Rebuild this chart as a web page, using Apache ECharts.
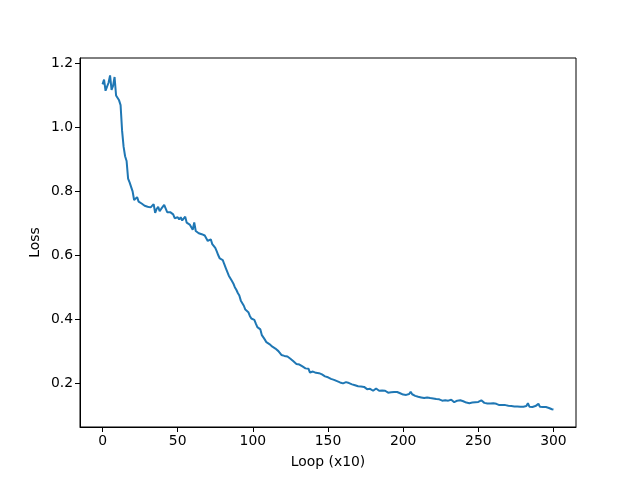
<!DOCTYPE html>
<html><head><meta charset="utf-8">
<script src="https://cdn.jsdelivr.net/npm/echarts@6/dist/echarts.min.js"></script>
<style>html,body{margin:0;padding:0;background:#fff}#c{width:640px;height:480px}</style>
</head><body><div id="c"></div>
<script>
const lossValues = [
1.135,1.150,1.115,1.128,1.140,1.163,1.118,1.130,1.158,1.100,
1.095,1.085,1.070,0.990,0.940,0.910,0.895,0.840,0.828,0.830,
0.800,0.773,0.778,0.782,0.768,0.770,0.762,0.765,0.755,0.750,
0.752,0.748,0.750,0.746,0.760,0.733,0.745,0.752,0.738,0.745,
0.750,0.758,0.762,0.735,0.732,0.735,0.734,0.728,0.716,0.722,
0.719,0.712,0.719,0.709,0.714,0.721,0.702,0.700,0.696,0.692,
0.680,0.703,0.676,0.672,0.669,0.665,0.666,0.667,0.662,0.656,
0.645,0.646,0.650,0.635,0.630,0.623,0.612,0.600,0.590,0.590,
0.585,0.572,0.560,0.548,0.536,0.528,0.520,0.512,0.500,0.492,
0.482,0.474,0.458,0.454,0.442,0.430,0.428,0.422,0.410,0.402,
0.400,0.398,0.386,0.375,0.372,0.368,0.350,0.344,0.336,0.328,
0.326,0.322,0.320,0.314,0.310,0.308,0.304,0.300,0.296,0.288,
0.287,0.285,0.284,0.283,0.280,0.276,0.270,0.268,0.262,0.260,
0.254,0.258,0.261,0.252,0.250,0.246,0.249,0.245,0.233,0.238,
0.236,0.231,0.232,0.233,0.231,0.226,0.227,0.224,0.221,0.222,
0.218,0.217,0.213,0.212,0.210,0.207,0.206,0.204,0.202,0.201,
0.199,0.197,0.203,0.209,0.200,0.197,0.196,0.194,0.193,0.192,
0.190,0.191,0.189,0.188,0.188,0.184,0.181,0.183,0.182,0.178,
0.176,0.179,0.183,0.180,0.176,0.174,0.177,0.181,0.176,0.171,
0.170,0.171,0.171,0.170,0.172,0.173,0.172,0.171,0.168,0.166,
0.164,0.165,0.163,0.163,0.166,0.173,0.165,0.160,0.160,0.158,
0.157,0.158,0.155,0.152,0.153,0.155,0.155,0.154,0.153,0.152,
0.152,0.151,0.150,0.150,0.149,0.147,0.145,0.145,0.146,0.145,
0.145,0.147,0.148,0.144,0.140,0.142,0.145,0.145,0.146,0.147,
0.143,0.140,0.139,0.138,0.137,0.138,0.139,0.140,0.140,0.139,
0.141,0.144,0.146,0.150,0.138,0.137,0.136,0.135,0.136,0.137,
0.137,0.137,0.135,0.133,0.131,0.132,0.131,0.130,0.131,0.130,
0.129,0.129,0.128,0.127,0.127,0.128,0.127,0.127,0.126,0.127,
0.126,0.126,0.128,0.137,0.126,0.124,0.125,0.126,0.128,0.132,
0.135,0.126,0.124,0.125,0.126,0.125,0.123,0.122,0.120,0.118,
0.117];
const loopSteps = lossValues.map((_, i) => i);
const xTicks = [0, 50, 100, 150, 200, 250, 300];
const yTicks = [0.2, 0.4, 0.6, 0.8, 1.0, 1.2];

const font = 'DejaVu Sans';
const chart = echarts.init(document.getElementById('c'), null, {renderer: 'canvas'});
chart.setOption({
  animation: false,
  backgroundColor: '#fff',
  grid: {left: 80, right: 64, top: 58, bottom: 53, show: true, borderColor: '#000', borderWidth: 1, backgroundColor: 'transparent'},
  xAxis: {
    type: 'value', min: -15, max: 315,
    name: 'Loop (x10)', nameLocation: 'middle', nameGap: 28, nameMoveOverlap: false,
    nameTextStyle: {fontFamily: font, fontSize: 13.9, color: '#000'},
    axisLine: {show: true, onZero: false, lineStyle: {color: '#000', width: 1}},
    axisTick: {show: true, length: 5, lineStyle: {color: '#000', width: 1}, customValues: xTicks},
    axisLabel: {fontFamily: font, fontSize: 13.9, color: '#000', margin: 7, customValues: xTicks, formatter: v => String(v)},
    splitLine: {show: false}
  },
  yAxis: {
    type: 'value', min: 0.0625, max: 1.2175,
    name: 'Loss', nameLocation: 'middle', nameGap: 38, nameMoveOverlap: false,
    nameTextStyle: {fontFamily: font, fontSize: 13.9, color: '#000'},
    axisLine: {show: true, onZero: false, lineStyle: {color: '#000', width: 1}},
    axisTick: {show: true, length: 5, lineStyle: {color: '#000', width: 1}, customValues: yTicks},
    axisLabel: {fontFamily: font, fontSize: 13.9, color: '#000', margin: 7, customValues: yTicks, formatter: v => v.toFixed(1)},
    splitLine: {show: false}
  },
  series: [{
    type: 'line',
    data: loopSteps.map((x, i) => [x, lossValues[i]]),
    showSymbol: false, symbol: 'none',
    lineStyle: {color: '#1f77b4', width: 2},
    itemStyle: {color: '#1f77b4'}
  }]
});
</script></body></html>
